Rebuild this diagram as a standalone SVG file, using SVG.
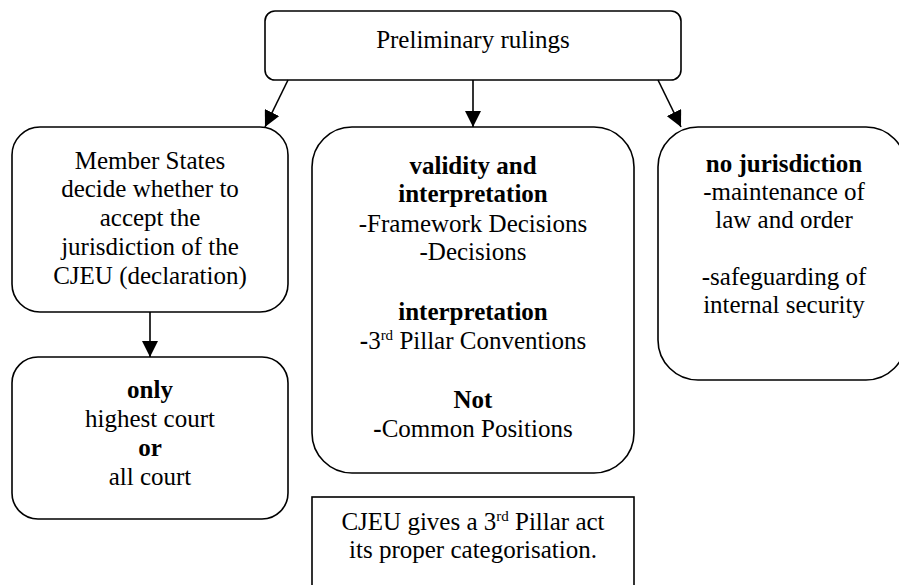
<svg xmlns="http://www.w3.org/2000/svg" width="899" height="585" viewBox="0 0 899 585">
<style>
.box{fill:#fff;stroke:#000;stroke-width:1.6}
text{font-size:25px;fill:#000;text-anchor:middle}
.b{font-weight:bold}
.sup{font-size:15px}
.conn line{stroke:#000;stroke-width:1.6}
</style>
<defs>
<marker id="ah" viewBox="0 0 16 16" refX="16" refY="8" markerWidth="16" markerHeight="16" markerUnits="userSpaceOnUse" orient="auto">
<path d="M0,0 L16,8 L0,16 z" fill="#000"/>
</marker>
</defs>
<rect width="899" height="585" fill="#fff"/>
<g font-family="Liberation Serif, Times New Roman, serif">
<g id="top">
<rect class="box" x="265" y="11" width="416" height="69" rx="10"/>
<text x="473" y="48">Preliminary rulings</text>
</g>
<g id="left">
<rect class="box" x="12" y="127" width="276" height="185" rx="28"/>
<text x="150" y="169">Member States</text>
<text x="150" y="197">decide whether to</text>
<text x="150" y="226">accept the</text>
<text x="150" y="255">jurisdiction of the</text>
<text x="150" y="284">CJEU (declaration)</text>
</g>
<g id="middle">
<rect class="box" x="312" y="127" width="322" height="346" rx="40"/>
<text x="473" y="174" class="b">validity and</text>
<text x="473" y="202" class="b">interpretation</text>
<text x="473" y="232">-Framework Decisions</text>
<text x="473" y="260">-Decisions</text>
<text x="473" y="320" class="b">interpretation</text>
<text x="473" y="349"><tspan class="b">-</tspan>3<tspan class="sup" dy="-9">rd</tspan><tspan dy="9"> Pillar Conventions</tspan></text>
<text x="473" y="408" class="b">Not</text>
<text x="473" y="437"><tspan class="b">-</tspan>Common Positions</text>
</g>
<g id="right">
<rect class="box" x="658" y="127" width="248" height="253" rx="40"/>
<text x="784" y="172" class="b">no jurisdiction</text>
<text x="784" y="200">-maintenance of</text>
<text x="784" y="228">law and order</text>
<text x="784" y="285">-safeguarding of</text>
<text x="784" y="313">internal security</text>
</g>
<g id="courts">
<rect class="box" x="12" y="357" width="276" height="162" rx="26"/>
<text x="150" y="398" class="b">only</text>
<text x="150" y="427">highest court</text>
<text x="150" y="456" class="b">or</text>
<text x="150" y="485">all court</text>
</g>
<g id="note">
<rect class="box" x="312" y="497" width="322" height="100" rx="0"/>
<text x="473" y="530">CJEU gives a 3<tspan class="sup" dy="-9">rd</tspan><tspan dy="9"> Pillar act</tspan></text>
<text x="473" y="558">its proper categorisation.</text>
</g>
</g>
<g class="conn" id="connectors">
<line x1="288" y1="80" x2="265" y2="127" marker-end="url(#ah)"/>
<line x1="473" y1="80" x2="473" y2="127" marker-end="url(#ah)"/>
<line x1="658" y1="80" x2="681" y2="127" marker-end="url(#ah)"/>
<line x1="150" y1="312" x2="150" y2="357" marker-end="url(#ah)"/>
</g>
</svg>
